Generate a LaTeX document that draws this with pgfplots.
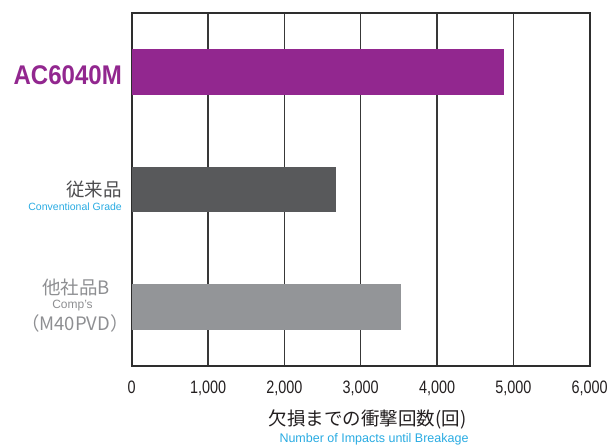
\documentclass[border=0pt]{standalone}
\usepackage{pgfplots}
\pgfplotsset{compat=1.18}
\usepackage{fontspec}
\setmainfont{Liberation Sans}
\newfontfamily\cjk{Noto Sans CJK JP}
\newfontfamily\narrow[FakeStretch=0.8]{Liberation Sans}
\newfontfamily\acfont[FakeStretch=0.89]{Liberation Sans}

\definecolor{acpurple}{RGB}{146,39,143}
\definecolor{bardark}{RGB}{88,89,91}
\definecolor{bargray}{RGB}{147,149,152}
\definecolor{labcyan}{RGB}{41,171,226}
\definecolor{labdark}{RGB}{77,77,79}
\definecolor{labgray}{RGB}{142,143,146}
\definecolor{tickdark}{RGB}{35,31,32}

\begin{document}
\begin{tikzpicture}[x=1pt,y=1pt]
\useasboundingbox (0,0) rectangle (615,445);
\begin{axis}[
    at={(131.7pt,79pt)}, anchor=south west,
    width=458pt, height=353pt, scale only axis,
    xmin=0, xmax=6000,
    ymin=-0.5, ymax=2.5,
    xbar, bar width=0.39, bar shift=0pt,
    xtick={0,1000,2000,3000,4000,5000,6000},
    ytick=\empty,
    major tick length=0pt,
    xmajorgrids,
    major x grid style={line width=1.1pt, color=black!78},
    axis line style={line width=1.6pt, color=black!82},
    xticklabel style={font=\narrow\fontsize{18}{18}\selectfont, text=tickdark, yshift=-11pt},
    /pgf/number format/.cd, 1000 sep={,}, assume math mode=true,
]
\addplot[fill=acpurple, draw=none] coordinates {(4873,2)};
\addplot[fill=bardark, draw=none] coordinates {(2676,1)};
\addplot[fill=bargray, draw=none] coordinates {(3528,0)};
\end{axis}

% category labels
\node[anchor=base east, inner sep=0pt, text=acpurple, font=\acfont\bfseries\fontsize{27}{27}\selectfont] at (122,360) {AC6040M};
\node[anchor=base east, inner sep=0pt, text=labdark, font=\cjk\fontsize{18.5}{18.5}\selectfont] at (122,249) {従来品};
\node[anchor=base east, inner sep=0pt, text=labcyan, font=\fontsize{10.5}{10.5}\selectfont] at (122,234.3) {Conventional Grade};
\node[anchor=base, inner sep=0pt, text=labgray, font=\cjk\fontsize{18.5}{18.5}\selectfont] at (76,151) {他社品B};
\node[anchor=base, inner sep=0pt, text=labgray, font=\fontsize{12}{12}\selectfont] at (72.5,137) {Comp’s};
\node[anchor=base, inner sep=0pt, text=labgray, font=\cjk\fontsize{18.5}{18.5}\selectfont] at (75,115) {（M40PVD）};

% axis title
\node[anchor=base, inner sep=0pt, text=tickdark, font=\cjk\fontsize{18.5}{18.5}\selectfont] at (367.5,20) {欠損までの衝撃回数(回)};
\node[anchor=base, inner sep=0pt, text=labcyan, font=\fontsize{12.5}{12.5}\selectfont] at (374,3) {Number of Impacts until Breakage};
\end{tikzpicture}
\end{document}
